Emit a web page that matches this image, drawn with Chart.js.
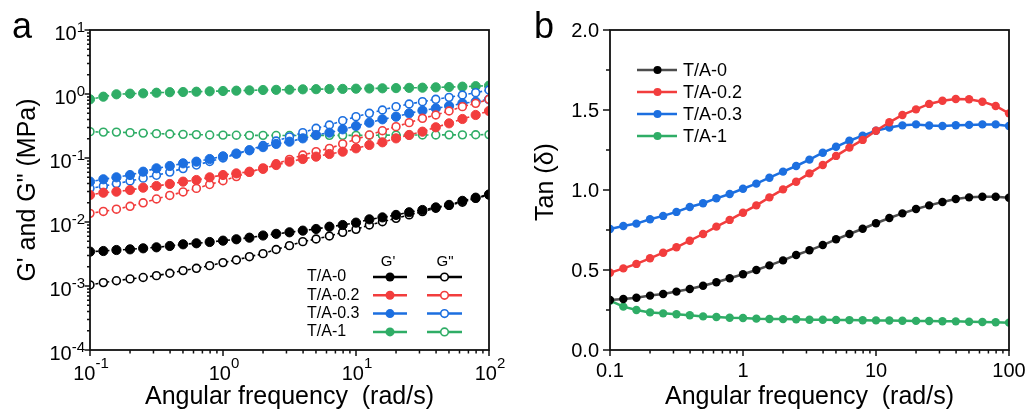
<!DOCTYPE html>
<html>
<head>
<meta charset="utf-8">
<script src="https://cdn.jsdelivr.net/npm/chart.js@4.4.1/dist/chart.umd.min.js"></script>
<style>
  body { margin: 0; background: #fff; }
  #wrap { position: relative; width: 1028px; height: 414px; }
  canvas { position: absolute; top: 0; }
</style>
</head>
<body>
<div id="wrap">
  <canvas id="chartA" width="514" height="414" style="left:0"></canvas>
  <canvas id="chartB" width="514" height="414" style="left:514px"></canvas>
</div>
<script>
// angular frequency (rad/s)
const freq = [0.1, 0.126, 0.158, 0.2, 0.251, 0.316, 0.398, 0.501, 0.631, 0.794,
  1, 1.26, 1.58, 2, 2.51, 3.16, 3.98, 5.01, 6.31, 7.94,
  10, 12.6, 15.8, 20, 25.1, 31.6, 39.8, 50.1, 63.1, 79.4, 100];

const names = ['T/A-0', 'T/A-0.2', 'T/A-0.3', 'T/A-1'];

// panel a : G' (storage) and G'' (loss), MPa
const gp0 = [0.00344, 0.00352, 0.00365, 0.00374, 0.00388, 0.00402, 0.00422, 0.00448, 0.00465, 0.00487,
  0.00511, 0.00537, 0.00569, 0.00615, 0.00653, 0.0069, 0.00733, 0.00778, 0.00845, 0.00897,
  0.00977, 0.011, 0.0118, 0.0129, 0.0142, 0.0154, 0.0169, 0.0185, 0.0214, 0.024, 0.0269];
const gpp0 = [0.00104, 0.00113, 0.00121, 0.00129, 0.00136, 0.00145, 0.00158, 0.00174, 0.00189, 0.00208,
  0.00232, 0.00255, 0.00287, 0.0032, 0.00372, 0.00427, 0.00493, 0.00542, 0.00604, 0.0069,
  0.00767, 0.00897, 0.0101, 0.0114, 0.0129, 0.0145, 0.0164, 0.0182, 0.0204, 0.0234, 0.0266];
const gp02 = [0.0264, 0.0287, 0.0298, 0.0316, 0.0344, 0.0365, 0.0393, 0.0427, 0.0453, 0.0499,
  0.0542, 0.0575, 0.0611, 0.0676, 0.0776, 0.0877, 0.0964, 0.105, 0.1155, 0.1256,
  0.1416, 0.1596, 0.1758, 0.2028, 0.229, 0.258, 0.302, 0.348, 0.407, 0.47, 0.542];
const gpp02 = [0.01365, 0.01462, 0.01585, 0.01758, 0.01995, 0.0229, 0.026, 0.0295, 0.0335, 0.0385,
  0.0442, 0.0513, 0.0596, 0.07, 0.0813, 0.0953, 0.1114, 0.1256, 0.1416, 0.166,
  0.196, 0.229, 0.267, 0.309, 0.3565, 0.417, 0.47, 0.542, 0.634, 0.7145, 0.826];
const gp03 = [0.0427, 0.0465, 0.0499, 0.0542, 0.0611, 0.069, 0.075, 0.0826, 0.0877, 0.0964,
  0.1062, 0.1175, 0.1318, 0.1479, 0.166, 0.18, 0.2028, 0.229, 0.249, 0.2805,
  0.316, 0.3565, 0.402, 0.4426, 0.499, 0.55, 0.597, 0.649, 0.7145, 0.759, 0.826];
const gpp03 = [0.0336, 0.0363, 0.0398, 0.0437, 0.0484, 0.0537, 0.0603, 0.0684, 0.0776, 0.0881,
  0.1, 0.1148, 0.1334, 0.1567, 0.1841, 0.2138, 0.249, 0.291, 0.328, 0.383,
  0.4426, 0.499, 0.562, 0.634, 0.698, 0.759, 0.826, 0.887, 0.964, 1.05, 1.155];
const gp1 = [0.826, 0.908, 0.989, 1.012, 1.023, 1.047, 1.067, 1.074, 1.086, 1.102,
  1.114, 1.127, 1.14, 1.155, 1.161, 1.169, 1.183, 1.189, 1.197, 1.202,
  1.211, 1.219, 1.227, 1.236, 1.247, 1.256, 1.271, 1.285, 1.303, 1.324, 1.349];
const gpp1 = [0.258, 0.254, 0.254, 0.249, 0.245, 0.24, 0.237, 0.234, 0.232, 0.229,
  0.228, 0.227, 0.226, 0.226, 0.225, 0.225, 0.225, 0.225, 0.226, 0.226,
  0.226, 0.227, 0.227, 0.228, 0.228, 0.229, 0.229, 0.23, 0.23, 0.231, 0.232];

// panel b : tan(delta)
const tan0 = [0.313, 0.319, 0.327, 0.34, 0.35, 0.365, 0.381, 0.402, 0.423, 0.448,
  0.473, 0.5, 0.529, 0.56, 0.594, 0.623, 0.656, 0.692, 0.725, 0.758,
  0.792, 0.825, 0.854, 0.881, 0.904, 0.925, 0.944, 0.954, 0.958, 0.958, 0.952];
const tan02 = [0.483, 0.51, 0.538, 0.573, 0.608, 0.642, 0.683, 0.725, 0.771, 0.813,
  0.858, 0.904, 0.954, 1.004, 1.052, 1.104, 1.156, 1.213, 1.265, 1.313,
  1.37, 1.423, 1.469, 1.504, 1.538, 1.558, 1.569, 1.567, 1.552, 1.525, 1.479];
const tan03 = [0.756, 0.775, 0.79, 0.817, 0.838, 0.863, 0.894, 0.917, 0.948, 0.975,
  1.008, 1.04, 1.077, 1.115, 1.15, 1.19, 1.233, 1.27, 1.308, 1.34,
  1.37, 1.39, 1.404, 1.41, 1.403, 1.4, 1.405, 1.407, 1.41, 1.41, 1.4];
const tan1 = [0.308, 0.271, 0.25, 0.235, 0.229, 0.223, 0.217, 0.21, 0.206, 0.202,
  0.2, 0.196, 0.194, 0.193, 0.192, 0.189, 0.189, 0.188, 0.187, 0.186,
  0.185, 0.184, 0.183, 0.182, 0.181, 0.18, 0.179, 0.177, 0.175, 0.173, 0.171];

const xDecades = [-1, 0, 1, 2];
const yDecades = [-4, -3, -2, -1, 0, 1];
const tanTicks = [0, 0.5, 1, 1.5, 2];
const tanXLabels = ['0.1', '1', '10', '100'];

const FONT = '"Liberation Sans", Arial, sans-serif';
const colors = ['#000000', '#f23d3d', '#1c6fe0', '#2fad66'];

const pts = arr => freq.map((f, i) => ({ x: f, y: arr[i] }));

function modSet(label, arr, color, open) {
  return {
    label, data: pts(arr), showLine: true,
    borderColor: color, borderWidth: 1.6, borderDash: [3, 2.5],
    pointRadius: open ? 3.9 : 4.6,
    pointBorderWidth: open ? 1.6 : 1,
    pointBackgroundColor: open ? '#fff' : color,
    pointBorderColor: color
  };
}

function tanSet(label, arr, color, line) {
  return {
    label, data: pts(arr), showLine: true,
    borderColor: line || color, borderWidth: 2.5,
    pointRadius: 4.2, pointBorderWidth: 0,
    pointBackgroundColor: color, pointBorderColor: color
  };
}

// "10" with superscript exponent
function sup(ctx, exp, x, y, align, lift) {
  ctx.font = `20px ${FONT}`;
  const wb = ctx.measureText('10').width;
  ctx.font = `15px ${FONT}`;
  const we = ctx.measureText(exp).width;
  const w = wb + we;
  const x0 = align === 'right' ? x - w : x - w / 2;
  ctx.textAlign = 'left';
  ctx.textBaseline = 'alphabetic';
  ctx.font = `20px ${FONT}`;
  ctx.fillText('10', x0, y);
  ctx.font = `15px ${FONT}`;
  ctx.fillText(exp, x0 + wb, y - lift);
}

function frame(ctx, a) {
  ctx.strokeStyle = '#111';
  ctx.lineWidth = 1.8;
  ctx.strokeRect(a.left, a.top, a.right - a.left, a.bottom - a.top);
}

function logTicksX(ctx, x, a) {
  ctx.lineWidth = 1.5;
  ctx.beginPath();
  xDecades.forEach(e => {
    for (let k = 1; k <= 9; k++) {
      if (e === 2 && k > 1) break;
      const px = x.getPixelForValue(k * Math.pow(10, e));
      ctx.moveTo(px, a.bottom);
      ctx.lineTo(px, a.bottom + (k === 1 ? 6 : 3.5));
    }
  });
  ctx.stroke();
}

const plotA = {
  id: 'plotA',
  afterDraw(chart) {
    const { ctx, chartArea: a, scales: { x, y } } = chart;
    ctx.save();
    frame(ctx, a);
    logTicksX(ctx, x, a);
    ctx.beginPath();
    yDecades.forEach(e => {
      for (let k = 1; k <= 9; k++) {
        if (e === 1 && k > 1) break;
        const py = y.getPixelForValue(k * Math.pow(10, e));
        ctx.moveTo(a.left, py);
        ctx.lineTo(a.left - (k === 1 ? 5.5 : 3), py);
      }
    });
    ctx.stroke();
    ctx.fillStyle = '#000';
    xDecades.forEach(e => sup(ctx, String(e), x.getPixelForValue(Math.pow(10, e)) + 1, 380, 'center', 12));
    yDecades.forEach(e => sup(ctx, String(e), a.left - 5, y.getPixelForValue(Math.pow(10, e)) + 10, 'right', 8));

    // titles
    ctx.font = `25px ${FONT}`;
    ctx.textAlign = 'center';
    ctx.textBaseline = 'alphabetic';
    ctx.fillText('Angular frequency  (rad/s)', (a.left + a.right) / 2, 404);
    ctx.save();
    ctx.translate(35, (a.top + a.bottom) / 2);
    ctx.rotate(-Math.PI / 2);
    ctx.fillText('G\' and G" (MPa)', 0, 0);
    ctx.restore();
    ctx.font = `36px ${FONT}`;
    ctx.textAlign = 'left';
    ctx.fillText('a', 12, 38);

    // two-column legend
    ctx.font = `15px ${FONT}`;
    ctx.textAlign = 'center';
    ctx.textBaseline = 'middle';
    ctx.fillText('G\'', 388, 262);
    ctx.fillText('G"', 445, 262);
    ctx.font = `16px ${FONT}`;
    names.forEach((n, i) => {
      const ly = 277 + i * 18.3;
      ctx.fillStyle = '#000';
      ctx.textAlign = 'left';
      ctx.fillText(n, 307, ly);
      ctx.strokeStyle = colors[i];
      ctx.lineWidth = 2.5;
      ctx.beginPath();
      ctx.moveTo(373, ly); ctx.lineTo(407, ly);
      ctx.moveTo(427, ly); ctx.lineTo(462, ly);
      ctx.stroke();
      ctx.fillStyle = colors[i];
      ctx.beginPath(); ctx.arc(390, ly, 4.5, 0, Math.PI * 2); ctx.fill();
      ctx.fillStyle = '#fff';
      ctx.lineWidth = 1.6;
      ctx.beginPath(); ctx.arc(444.5, ly, 3.8, 0, Math.PI * 2); ctx.fill(); ctx.stroke();
    });
    ctx.restore();
  }
};

const plotB = {
  id: 'plotB',
  afterDraw(chart) {
    const { ctx, chartArea: a, scales: { x, y } } = chart;
    ctx.save();
    frame(ctx, a);
    logTicksX(ctx, x, a);
    ctx.beginPath();
    for (let v = 0; v <= 2.001; v += 0.25) {
      const py = y.getPixelForValue(v);
      const major = Math.abs(v * 2 - Math.round(v * 2)) < 1e-6;
      ctx.moveTo(a.left, py);
      ctx.lineTo(a.left - (major ? 7 : 4), py);
    }
    ctx.stroke();
    ctx.fillStyle = '#000';
    ctx.font = `20px ${FONT}`;
    ctx.textAlign = 'right';
    ctx.textBaseline = 'middle';
    tanTicks.forEach(v => ctx.fillText(v.toFixed(1), a.left - 11, y.getPixelForValue(v) + 1));
    ctx.textAlign = 'center';
    ctx.textBaseline = 'alphabetic';
    xDecades.forEach((e, i) => ctx.fillText(tanXLabels[i], x.getPixelForValue(Math.pow(10, e)), 377));

    ctx.font = `25px ${FONT}`;
    ctx.fillText('Angular frequency  (rad/s)', (a.left + a.right) / 2, 404);
    ctx.save();
    ctx.translate(39, 182);
    ctx.rotate(-Math.PI / 2);
    ctx.fillText('Tan (δ)', 0, 0);
    ctx.restore();
    ctx.font = `36px ${FONT}`;
    ctx.textAlign = 'left';
    ctx.fillText('b', 20, 38);

    // legend
    ctx.font = `18px ${FONT}`;
    ctx.textBaseline = 'middle';
    names.forEach((n, i) => {
      const ly = 70 + i * 22;
      ctx.strokeStyle = i === 0 ? '#4d4d4d' : colors[i];
      ctx.lineWidth = 2.5;
      ctx.beginPath(); ctx.moveTo(123, ly); ctx.lineTo(163, ly); ctx.stroke();
      ctx.fillStyle = colors[i];
      ctx.beginPath(); ctx.arc(143.5, ly, 4, 0, Math.PI * 2); ctx.fill();
      ctx.fillStyle = '#000';
      ctx.fillText(n, 169, ly + 1);
    });
    ctx.restore();
  }
};

function scaleOpts(type, min, max, size, axis) {
  return {
    type, min, max,
    ticks: { display: false },
    grid: { display: false },
    border: { display: false },
    afterFit(s) { if (axis === 'x') s.height = size; else s.width = size; }
  };
}

new Chart(document.getElementById('chartA'), {
  type: 'scatter',
  data: {
    datasets: [
      modSet('T/A-0 G\'', gp0, colors[0], false),
      modSet('T/A-0 G"', gpp0, colors[0], true),
      modSet('T/A-0.2 G\'', gp02, colors[1], false),
      modSet('T/A-0.2 G"', gpp02, colors[1], true),
      modSet('T/A-0.3 G\'', gp03, colors[2], false),
      modSet('T/A-0.3 G"', gpp03, colors[2], true),
      modSet('T/A-1 G\'', gp1, colors[3], false),
      modSet('T/A-1 G"', gpp1, colors[3], true)
    ]
  },
  options: {
    responsive: false, animation: false, events: [],
    layout: { padding: { left: 0, top: 30, right: 25, bottom: 0 } },
    plugins: { legend: { display: false }, tooltip: { enabled: false } },
    scales: {
      x: scaleOpts('logarithmic', 0.1, 100, 64, 'x'),
      y: scaleOpts('logarithmic', 0.0001, 10, 90, 'y')
    }
  },
  plugins: [plotA]
});

new Chart(document.getElementById('chartB'), {
  type: 'scatter',
  data: {
    datasets: [
      tanSet(names[0], tan0, colors[0], '#4d4d4d'),
      tanSet(names[1], tan02, colors[1]),
      tanSet(names[2], tan03, colors[2]),
      tanSet(names[3], tan1, colors[3])
    ]
  },
  options: {
    responsive: false, animation: false, events: [],
    layout: { padding: { left: 0, top: 30, right: 19, bottom: 0 } },
    plugins: { legend: { display: false }, tooltip: { enabled: false } },
    scales: {
      x: scaleOpts('logarithmic', 0.1, 100, 64, 'x'),
      y: scaleOpts('linear', 0, 2, 96, 'y')
    }
  },
  plugins: [plotB]
});
</script>
</body>
</html>
